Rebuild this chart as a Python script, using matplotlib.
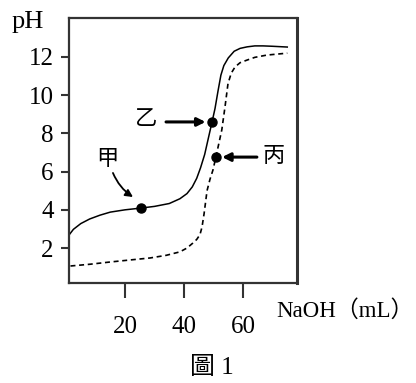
import matplotlib.pyplot as plt

plt.rcParams['font.family'] = ['Liberation Serif', 'Noto Sans CJK TC']

# solid curve (weak acid titration)
vol_solid = [1, 2.5, 5, 8, 11.5, 15, 20, 25.3, 30, 35, 38.6, 41, 42.8, 44.3, 45.6, 47, 48.1, 49.5,
             50.5, 51.5, 52.5, 53.5, 55, 57, 59, 61.4, 64, 66.8, 70, 75]
ph_solid = [2.68, 2.98, 3.28, 3.52, 3.72, 3.88, 4.0, 4.09, 4.18, 4.33, 4.58, 4.85, 5.2, 5.65, 6.2, 6.9, 7.65, 8.6,
            9.3, 10.2, 11.05, 11.55, 11.95, 12.3, 12.45, 12.53, 12.58, 12.58, 12.56, 12.52]

# dashed curve (strong acid titration)
vol_dash = [1.5, 8, 15, 22, 28.5, 34, 38.6, 41, 43, 44.3, 45.4, 46.1, 46.8, 47.3, 47.8, 48.8, 49.8, 50.8,
            52.8, 53.9, 54.9, 56, 57.3, 59, 61.4, 64, 68.1, 75]
ph_dash = [1.06, 1.15, 1.27, 1.38, 1.48, 1.62, 1.8, 2.0, 2.26, 2.45, 2.7, 3.1, 3.8, 4.4, 5.0, 5.6, 6.08, 6.76,
           8.18, 9.4, 10.6, 11.15, 11.48, 11.7, 11.84, 11.98, 12.1, 12.2]

point_names = ['甲', '乙', '丙']
point_vol = [25.3, 49.5, 50.8]
point_ph = [4.09, 8.6, 6.76]

x_ticks = [20, 40, 60]
y_ticks = [2, 4, 6, 8, 10, 12]

fig = plt.figure(figsize=(4.16, 3.83), dpi=100)
ax = fig.add_axes([69/416, 100/383, 228/416, 265/383])

ax.plot(vol_solid, ph_solid, color='black', lw=1.1)
ax.plot(vol_dash, ph_dash, color='black', lw=1.2, ls=(0, (3, 2.2)))
ax.plot(point_vol, point_ph, 'o', color='black', ms=6.5)

ax.set_xlim(1, 78.3)
ax.set_ylim(0.17, 14.04)
ax.set_xticks(x_ticks)
ax.set_yticks(y_ticks)
ax.tick_params(axis='x', direction='out', length=11, width=1.5, pad=13, labelsize=18, color='#333333')
ax.tick_params(axis='y', direction='out', length=6, width=1.5, pad=5, labelsize=18, color='#333333')
for side, sp in ax.spines.items():
    sp.set_color('#333333')
    sp.set_linewidth(2.2 if side == 'right' else 1.6)

# labels for the marked points
ax.text(13.9, 6.6, point_names[0], fontsize=16, ha='center', va='center')
ax.text(27.1, 8.65, point_names[1], fontsize=16, ha='center', va='center')
ax.text(70.5, 6.76, point_names[2], fontsize=16, ha='center', va='center')

ax.annotate('', xy=(22.7, 4.67), xytext=(15.9, 5.93),
            arrowprops=dict(arrowstyle='-|>', color='black', lw=1.3, mutation_scale=11,
                            connectionstyle='arc3,rad=0.15', shrinkA=0, shrinkB=0))
ax.annotate('', xy=(47.3, 8.6), xytext=(33.9, 8.6),
            arrowprops=dict(arrowstyle='-|>', color='black', lw=2.2, mutation_scale=12,
                            shrinkA=0, shrinkB=0))
ax.annotate('', xy=(52.9, 6.76), xytext=(64.7, 6.76),
            arrowprops=dict(arrowstyle='-|>', color='black', lw=2.2, mutation_scale=12,
                            shrinkA=0, shrinkB=0))

fig.text(12/416, 1 - 28/383, 'pH', fontsize=19, ha='left', va='baseline')
fig.text(276/416, 1 - 311/383, 'NaOH（mL）', fontsize=16.5, ha='left', va='center')
fig.text(212/416, 1 - 368/383, '圖 1', fontsize=18, ha='center', va='center')

fig.savefig('out.png', dpi=100)
